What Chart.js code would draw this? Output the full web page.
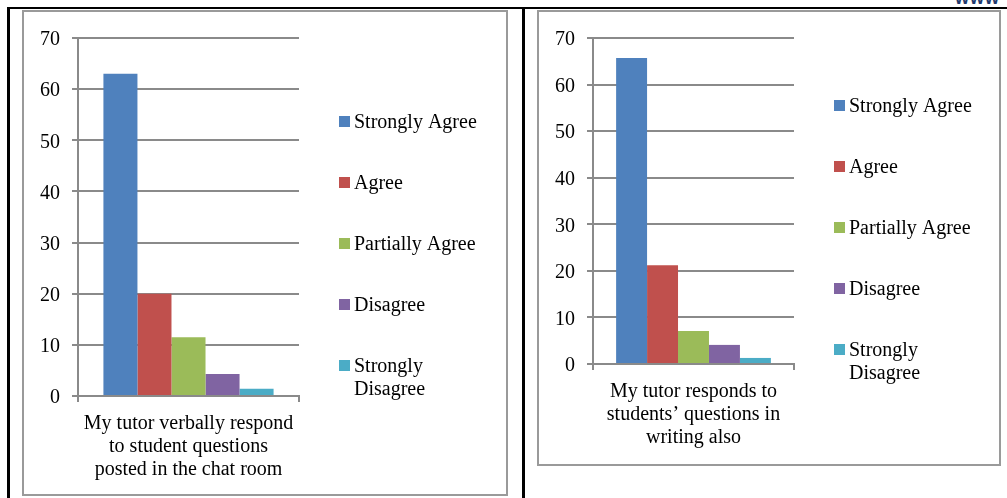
<!DOCTYPE html>
<html>
<head>
<meta charset="utf-8">
<script src="https://cdn.jsdelivr.net/npm/chart.js@4.4.0/dist/chart.umd.min.js"></script>
<style>
  body { margin: 0; background: #fff; width: 1007px; height: 498px; position: relative; overflow: hidden; font-family: "Liberation Serif", serif; }
  .line { position: absolute; background: #000; }
  .frame { position: absolute; border: 2px solid #9a9a9a; box-sizing: border-box; }
  canvas { position: absolute; }
  #www { position: absolute; left: 955px; top: -12px; font: bold 18px "Liberation Sans", sans-serif; color: #1f3a6e; letter-spacing: 1px; }
</style>
</head>
<body>
<div id="www">www</div>
<div class="line" style="left:7px;top:7px;width:1000px;height:2px"></div>
<div class="line" style="left:7px;top:7px;width:3px;height:491px"></div>
<div class="line" style="left:522px;top:7px;width:3px;height:491px"></div>
<div class="frame" style="left:22px;top:10px;width:486px;height:486px"></div>
<div class="frame" style="left:537px;top:10px;width:464px;height:456px"></div>
<canvas id="chartLeft" width="482" height="482" style="left:24px;top:12px"></canvas>
<canvas id="chartRight" width="460" height="452" style="left:539px;top:12px"></canvas>
<script>
// answers and values
const answers = ['Strongly Agree', 'Agree', 'Partially Agree', 'Disagree', 'Strongly Disagree'];
const leftQuestion = ['My tutor verbally respond', 'to student questions', 'posted in the chat room'];
const leftValues = [63, 20, 11.5, 4.3, 1.4];
const rightQuestion = ['My tutor responds to', 'students\u2019 questions in', 'writing also'];
const rightValues = [65.7, 21.2, 7.1, 4.1, 1.3];
const yMax = 70;
const yStep = 10;

const colours = ['#4F81BD', '#C0504D', '#9BBB59', '#8064A2', '#4BACC6'];
const grey = '#8a8a8a';
const serif = '"Liberation Serif", "Times New Roman", serif';

// wrap legend text
function wrap(ctx, text, maxWidth) {
  const words = text.split(' ');
  const lines = [];
  let cur = '';
  words.forEach(w => {
    const test = cur ? cur + ' ' + w : w;
    if (cur && ctx.measureText(test).width > maxWidth) {
      lines.push(cur);
      cur = w;
    } else {
      cur = test;
    }
  });
  lines.push(cur);
  return lines;
}

// legend on the right side
const sideLegend = {
  id: 'sideLegend',
  afterDraw(chart, args, opts) {
    const ctx = chart.ctx;
    const x0 = chart.chartArea.right + opts.offsetX;
    ctx.save();
    ctx.font = '20px ' + serif;
    ctx.textBaseline = 'middle';
    ctx.textAlign = 'left';
    chart.data.datasets.forEach((ds, i) => {
      const y = opts.top + i * opts.gap;
      ctx.fillStyle = ds.backgroundColor;
      ctx.fillRect(x0, y - 6, 11, 11);
      ctx.fillStyle = '#000';
      wrap(ctx, ds.label, opts.maxWidth).forEach((line, k) => {
        ctx.fillText(line, x0 + 15, y + 1 + k * 23);
      });
    });
    ctx.restore();
  }
};

function makeChart(id, question, values, padRight, xHeight, legendTop) {
  return new Chart(document.getElementById(id), {
    type: 'bar',
    data: {
      labels: [question],
      datasets: answers.map((a, i) => ({
        label: a,
        data: [values[i]],
        backgroundColor: colours[i],
        categoryPercentage: 0.77,
        barPercentage: 1.0
      }))
    },
    options: {
      responsive: false,
      animation: false,
      layout: { padding: { left: 0, top: 26, right: padRight, bottom: 0 } },
      plugins: {
        legend: { display: false },
        tooltip: { enabled: false },
        sideLegend: { offsetX: 40, top: legendTop, gap: 61, maxWidth: 130 }
      },
      scales: {
        y: {
          min: 0,
          max: yMax,
          ticks: { stepSize: yStep, color: '#000', padding: 12, labelOffset: 2, font: { family: serif, size: 20 } },
          grid: { color: grey, lineWidth: 2, tickLength: 6 },
          border: { color: grey, width: 2 },
          afterFit: s => { s.width = 54; }
        },
        x: {
          ticks: { color: '#000', padding: 10, maxRotation: 0, font: { family: serif, size: 20, lineHeight: 1.15 } },
          grid: { drawOnChartArea: false, drawTicks: true, tickLength: 6, color: grey, lineWidth: 2 },
          border: { color: grey, width: 2 },
          afterFit: s => { s.height = xHeight; }
        }
      }
    },
    plugins: [sideLegend]
  });
}

makeChart('chartLeft', leftQuestion, leftValues, 207, 98, 110);
makeChart('chartRight', rightQuestion, rightValues, 205, 100, 94);
</script>
</body>
</html>
